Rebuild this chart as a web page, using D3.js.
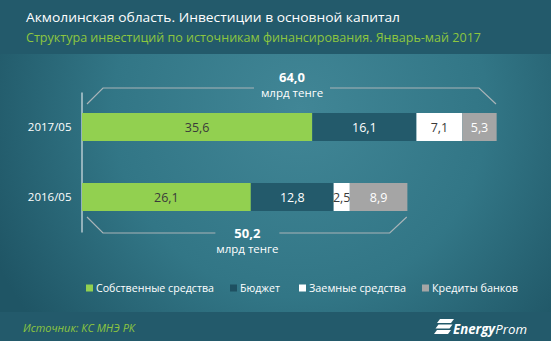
<!DOCTYPE html>
<html>
<head>
<meta charset="utf-8">
<script src="https://cdn.jsdelivr.net/npm/d3@7"></script>
<style>
  html, body { margin: 0; padding: 0; background: #235a6b; }
  svg { display: block; font-family: "Open Sans", "Noto Sans", sans-serif; }
</style>
</head>
<body>
<svg id="chart" width="551" height="341"></svg>
<script>
// Investment in fixed capital, Akmola region, Jan–May (bn tenge)
const categories = ["2017/05", "2016/05"];
const seriesNames = ["Собственные средства", "Бюджет", "Заемные средства", "Кредиты банков"];
const ownFunds   = [35.6, 26.1];
const budget     = [16.1, 12.8];
const borrowed   = [7.1, 2.5];
const bankLoans  = [5.3, 8.9];
const totals     = [64.0, 50.2];
const totalLabels = ["64,0", "50,2"];

const colors = ["#92d050", "#235a6b", "#ffffff", "#a5a5a5"];
const labelColors = ["#3a3a3a", "#ffffff", "#3a3a3a", "#ffffff"];

const W = 551, H = 341;
const svg = d3.select("#chart");

// Background: radial glow over dark teal
const defs = svg.append("defs");
const rg = defs.append("radialGradient").attr("id", "bg")
  .attr("gradientUnits", "userSpaceOnUse")
  .attr("cx", 300).attr("cy", 110).attr("r", 340);
rg.append("stop").attr("offset", 0).attr("stop-color", "#418696");
rg.append("stop").attr("offset", 0.55).attr("stop-color", "#327686");
rg.append("stop").attr("offset", 1).attr("stop-color", "#1f5565");
svg.append("rect").attr("width", W).attr("height", H).attr("fill", "url(#bg)");

// Header and footer bands
svg.append("rect").attr("x", 0).attr("y", 0).attr("width", W).attr("height", 54).attr("fill", "#235a6b");
svg.append("rect").attr("x", 0).attr("y", 312).attr("width", W).attr("height", H - 312).attr("fill", "#235a6b");

svg.append("text").attr("x", 26).attr("y", 22)
  .attr("font-size", 13.5).attr("fill", "#ffffff")
  .attr("textLength", 374).attr("lengthAdjust", "spacingAndGlyphs")
  .text("Акмолинская область. Инвестиции в основной капитал");
svg.append("text").attr("x", 26).attr("y", 41.5)
  .attr("font-size", 12.5).attr("fill", "#8dc63f")
  .attr("textLength", 455).attr("lengthAdjust", "spacingAndGlyphs")
  .text("Структура инвестиций по источникам финансирования. Январь-май 2017");

// Stack the series
const rows = categories.map((c, i) => ({
  cat: c, v: [ownFunds[i], budget[i], borrowed[i], bankLoans[i]]
}));
const stacked = d3.stack().keys([0, 1, 2, 3]).value((d, k) => d.v[k])(rows);

const x = d3.scaleLinear().domain([0, 64.0]).range([82, 496]);
const y = d3.scaleBand().domain(categories).range([92, 232]).paddingInner(0.6).paddingOuter(0.3);
const fmt = v => d3.format(".1f")(v).replace(".", ",");

// Category axis
const yAxis = svg.append("g").attr("transform", "translate(81.5,0)")
  .call(d3.axisLeft(y).tickSize(0).tickPadding(10));
yAxis.select(".domain").attr("stroke", "#d8e2e6").attr("stroke-width", 1.2);
yAxis.selectAll("text").attr("fill", "#ffffff").attr("font-size", 11.5)
  .attr("font-family", "'Open Sans', sans-serif");

// Bars
stacked.forEach((layer, k) => {
  const g = svg.append("g");
  g.selectAll("rect").data(layer).join("rect")
    .attr("x", d => x(d[0]))
    .attr("y", d => y(d.data.cat))
    .attr("width", d => x(d[1]) - x(d[0]))
    .attr("height", y.bandwidth())
    .attr("fill", colors[k]);
  g.selectAll("text").data(layer).join("text")
    .attr("x", d => (x(d[0]) + x(d[1])) / 2)
    .attr("y", d => y(d.data.cat) + y.bandwidth() / 2 + 4.5)
    .attr("text-anchor", "middle")
    .attr("font-size", 12.5)
    .attr("fill", labelColors[k])
    .text(d => fmt(d[1] - d[0]));
});

// Total brackets: above the first bar, below the second
categories.forEach((c, i) => {
  const above = i === 0;
  const x0 = x(0), x1 = x(totals[i]);
  const top = y(c), bot = y(c) + y.bandwidth();
  const lineY = above ? top - 25 : bot + 22;
  const tipY = above ? top - 9 : bot + 6;
  const cx = (x0 + x1) / 2 + 3;
  const half = above ? 38 : 32;
  const g = svg.append("g").attr("fill", "none").attr("stroke", "#a9b4b8").attr("stroke-width", 1.2);
  g.append("path").attr("d", `M${x0 + 5},${tipY} L${x0 + 21},${lineY} L${cx - half},${lineY}`);
  g.append("path").attr("d", `M${cx + half},${lineY} L${x1 - 17},${lineY} L${x1},${tipY}`);
  const ty = above ? lineY - 6 : lineY + 5;
  svg.append("text").attr("x", cx).attr("y", ty)
    .attr("text-anchor", "middle").attr("font-size", 13).attr("font-weight", "bold")
    .attr("fill", "#ffffff").text(totalLabels[i]);
  svg.append("text").attr("x", cx).attr("y", ty + 15)
    .attr("text-anchor", "middle").attr("font-size", 11.5)
    .attr("fill", "#ffffff").text("млрд тенге");
});

// Legend
const legendX = [86, 230, 299, 422];
const legendW = [118, 40, 97, 86];
const lg = svg.append("g");
seriesNames.forEach((n, k) => {
  lg.append("rect").attr("x", legendX[k]).attr("y", 284.5).attr("width", 7).attr("height", 7)
    .attr("fill", k === 1 ? "#1e5061" : colors[k]);
  lg.append("text").attr("x", legendX[k] + 10).attr("y", 291.5)
    .attr("font-size", 11.5).attr("fill", "#ffffff")
    .attr("textLength", legendW[k]).attr("lengthAdjust", "spacingAndGlyphs")
    .text(n);
});

// Footer
svg.append("text").attr("x", 23).attr("y", 332)
  .attr("font-size", 11.5).attr("font-style", "italic").attr("fill", "#8dc63f")
  .attr("textLength", 112).attr("lengthAdjust", "spacingAndGlyphs")
  .text("Источник: КС МНЭ РК");

// Brand mark: slanted stripes + wordmark
const logo = svg.append("g").attr("fill", "#ffffff");
[319, 324.5, 330].forEach((yy, j) => {
  const sk = 3, h = 4;
  const xl = 437 - j * 1.5, xr = 451 - j * 1.5;
  logo.append("path").attr("d",
    `M${xl + sk},${yy} L${xr + sk},${yy} L${xr},${yy + h} L${xl},${yy + h} Z`);
});
const wm = svg.append("text").attr("x", 453).attr("y", 334)
  .attr("font-size", 13.5).attr("font-style", "italic").attr("fill", "#ffffff")
  .attr("textLength", 74).attr("lengthAdjust", "spacingAndGlyphs");
wm.append("tspan").attr("font-weight", "bold").text("Energy");
wm.append("tspan").attr("font-weight", "normal").text("Prom");
</script>
</body>
</html>
